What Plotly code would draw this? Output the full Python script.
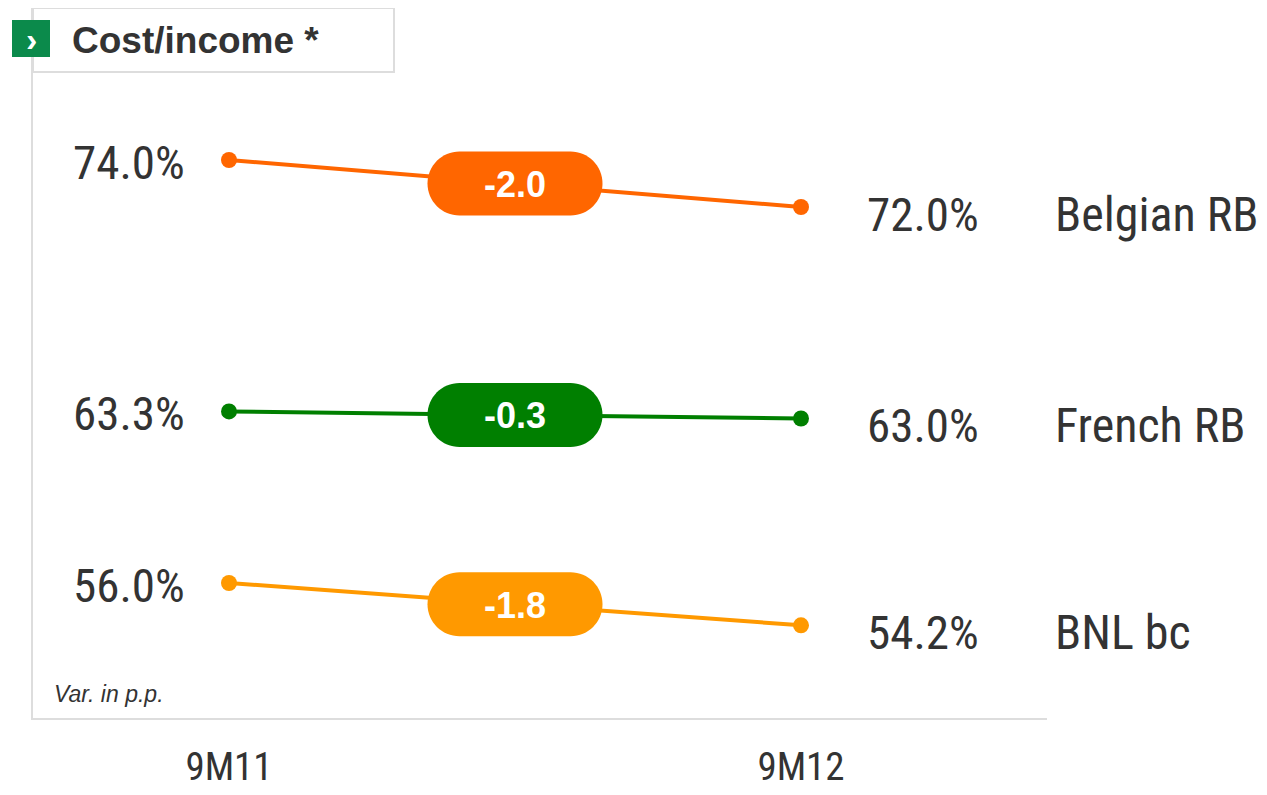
import plotly.graph_objects as go

periods = ["9M11", "9M12"]
segments = ["Belgian RB", "French RB", "BNL bc"]
start_vals = [74.0, 63.3, 56.0]
end_vals = [72.0, 63.0, 54.2]
variations = ["-2.0", "-0.3", "-1.8"]
colors = ["#FF6600", "#007F00", "#FF9900"]

NARROW = "Liberation Sans Narrow, Arial Narrow, Roboto Condensed, DejaVu Sans Condensed, sans-serif"
BOLD = "Liberation Sans, Arial, sans-serif"
TXT = "#333333"

# page body has an 8px margin: figure is drawn shifted by 8px
OFF = 8
PW, PH = 1014, 710  # plot area size


def px(x):
    return (x - 33) / PW


def py(y):
    return (718 - y) / PH


xpos = [0, 1]
fig = go.Figure()
shapes = []
annotations = []

for name, v0, v1, var, col in zip(segments, start_vals, end_vals, variations, colors):
    fig.add_trace(go.Scatter(
        x=xpos, y=[v0, v1], mode="lines+markers",
        line=dict(color=col, width=4),
        marker=dict(size=16, color=col),
        showlegend=False, hoverinfo="skip", cliponaxis=False))
    ym = (v0 + v1) / 2
    w, h = 87.5, 32
    r = 32
    k = 0.5523 * r
    a = w - r
    path = (f"M {-a},{-h} L {a},{-h} "
            f"C {a + k},{-h} {w},{-k} {w},0 "
            f"C {w},{k} {a + k},{h} {a},{h} "
            f"L {-a},{h} "
            f"C {-a - k},{h} {-w},{k} {-w},0 "
            f"C {-w},{-k} {-a - k},{-h} {-a},{-h} Z")
    shapes.append(dict(type="path", xref="x", yref="y", xsizemode="pixel", ysizemode="pixel",
                       xanchor=0.5, yanchor=ym, path=path, fillcolor=col, line=dict(width=0),
                       layer="above"))
    annotations.append(dict(x=0.5, y=ym, xref="x", yref="y", text=f"<b>{var}</b>", showarrow=False,
                            font=dict(family=BOLD, size=36, color="white"), xanchor="center",
                            yanchor="middle", yshift=-1))
    annotations.append(dict(x=0, y=v0, xref="x", yref="y", text=f"{v0:.1f}%", showarrow=False,
                            font=dict(family=NARROW, size=47, color=TXT), xanchor="right",
                            yanchor="middle", xshift=-42, yshift=-2))
    annotations.append(dict(x=1, y=v1, xref="x", yref="y", text=f"{v1:.1f}%", showarrow=False,
                            font=dict(family=NARROW, size=47, color=TXT), xanchor="left",
                            yanchor="middle", xshift=64, yshift=-7))
    annotations.append(dict(x=1, y=v1, xref="x", yref="y", text=name, showarrow=False,
                            font=dict(family=NARROW, size=48, color=TXT), xanchor="left",
                            yanchor="middle", xshift=252, yshift=-7))

# title box
shapes.append(dict(type="rect", xref="paper", yref="paper", x0=px(33), x1=px(394),
                   y0=py(72), y1=py(8), line=dict(color="#DDDDDD", width=2),
                   fillcolor="white", layer="below"))
shapes.append(dict(type="rect", xref="paper", yref="paper", x0=px(12), x1=px(50),
                   y0=py(57), y1=py(20), line=dict(width=0),
                   fillcolor="#0B8A4B", layer="above"))
annotations.append(dict(x=px(31), y=py(39), xref="paper", yref="paper",
                        text="<b>›</b>", showarrow=False, xanchor="center", yanchor="middle",
                        font=dict(family=BOLD, size=34, color="white")))
annotations.append(dict(x=px(70), y=py(40), xref="paper", yref="paper",
                        text="<b>Cost/income *</b>", showarrow=False, xanchor="left", yanchor="middle",
                        font=dict(family=BOLD, size=37, color=TXT)))
annotations.append(dict(x=px(52), y=py(694), xref="paper", yref="paper",
                        text="<i>Var. in p.p.</i>", showarrow=False, xanchor="left", yanchor="middle",
                        font=dict(family=BOLD, size=23, color=TXT)))

fig.update_layout(
    width=1267 - OFF, height=795 - OFF,
    margin=dict(l=33 - OFF, r=(1267 - OFF) - (1047 - OFF), t=8 - OFF, b=(795 - OFF) - (718 - OFF),
                pad=0, autoexpand=False),
    paper_bgcolor="white", plot_bgcolor="white",
    shapes=shapes, annotations=annotations,
    xaxis=dict(range=[-(229 - 33) / 572, 1 + (1047 - 801) / 572], tickvals=xpos, ticktext=periods,
               showgrid=False, zeroline=False, showline=True, linecolor="#DDDDDD", linewidth=2,
               ticks="", tickfont=dict(family=NARROW, size=39, color=TXT), ticklabelstandoff=13,
               automargin=False, fixedrange=True),
    yaxis=dict(range=[74 - (718 - 160) / 23.5, 74 + (160 - 8) / 23.5], showgrid=False,
               zeroline=False, showline=True, linecolor="#DDDDDD", linewidth=2,
               showticklabels=False, ticks="", automargin=False, fixedrange=True),
)

fig.write_html("out.html")
